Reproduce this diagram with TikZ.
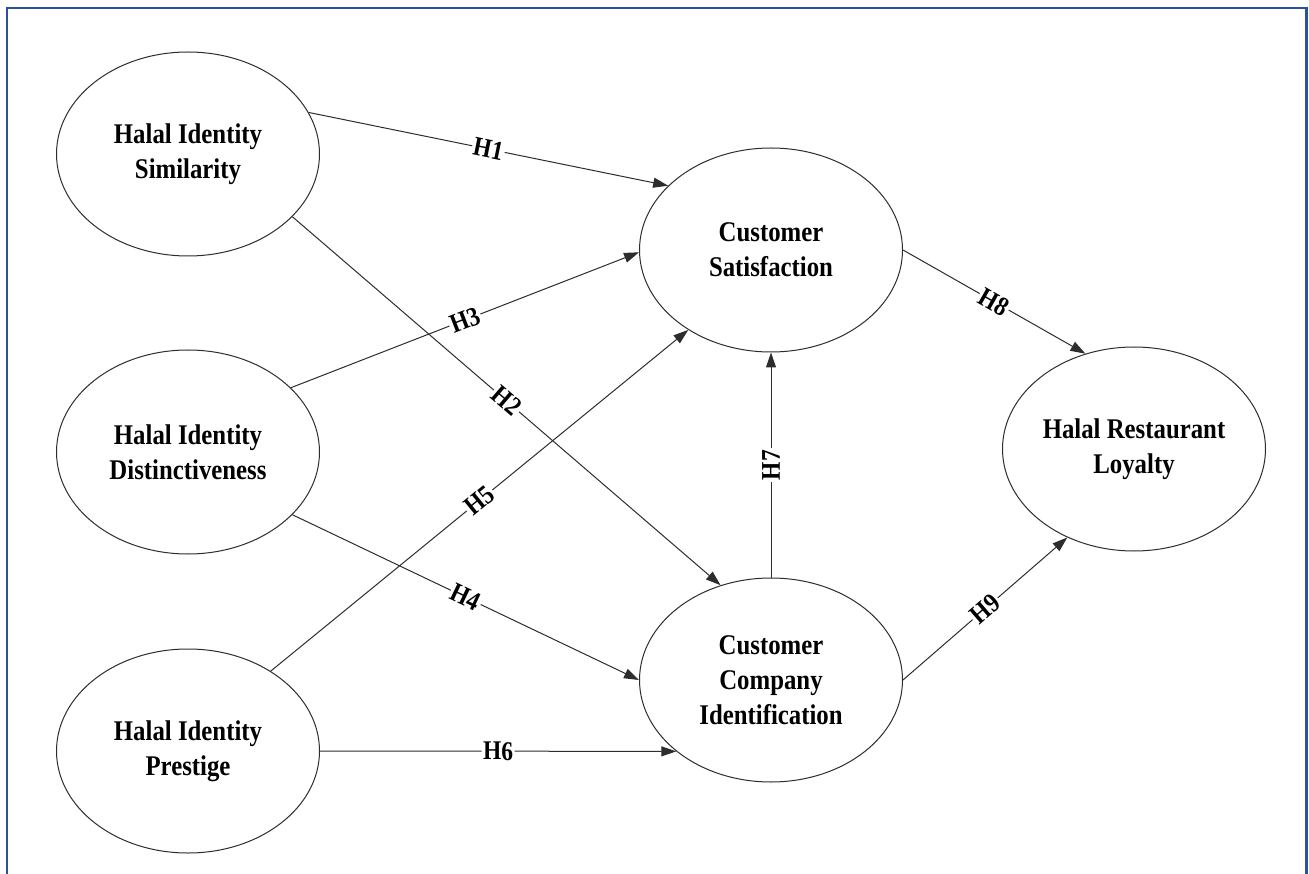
\documentclass[tikz,border=0pt]{standalone}
\usepackage{fontspec}
\setmainfont{Liberation Serif}[FakeStretch=0.87]
\usetikzlibrary{arrows.meta,shapes.geometric}
\definecolor{frameblue}{RGB}{46,78,158}
\definecolor{linegray}{RGB}{45,45,45}
\tikzset{
  construct/.style={ellipse, draw=linegray, line width=1pt, fill=white,
    minimum width=263pt, minimum height=204pt, inner sep=0pt, align=center,
    font=\fontsize{28.5}{35}\selectfont\bfseries},
  path/.style={draw=linegray, line width=1pt, -{Triangle[length=15pt,width=10pt]}},
  hyp/.style={midway, sloped, fill=white, inner sep=1.5pt,
    font=\fontsize{27}{27}\selectfont\bfseries}
}
\begin{document}
\begin{tikzpicture}[x=1pt,y=-1pt]
\useasboundingbox (0,0) rectangle (1309,874);
\fill[white] (0,0) rectangle (1309,874);
\draw[frameblue, line width=2.2pt] (7,874) -- (7,8) -- (1306.5,8) -- (1306.5,874);

\node[construct] (his) at (188,154) {Halal Identity\\Similarity};
\node[construct] (hid) at (188,452) {Halal Identity\\Distinctiveness};
\node[construct] (hip) at (188,751) {Halal Identity\\Prestige};
\node[construct] (cs)  at (771,250) {Customer\\Satisfaction};
\node[construct] (cci) at (771,680) {Customer\\Company\\Identification};
\node[construct] (hrl) at (1134,449) {Halal Restaurant\\Loyalty};

\draw[path] (his.19)  -- node[hyp] {H1} (cs.148);
\draw[path] (his.-31) -- node[hyp] {H2} (cci.118);
\draw[path] (hid.32)  -- node[hyp] {H3} (cs.181);
\draw[path] (hid.-31) -- node[hyp] {H4} (cci.180);
\draw[path] (hip.44)  -- node[hyp] {H5} (cs.224);
\draw[path] (hip.0)   -- node[hyp] {H6} (cci.217);
\draw[path] (cci.90)  -- node[hyp] {H7} (cs.270);
\draw[path] (cs.0)    -- node[hyp] {H8} (hrl.117);
\draw[path] (cci.0)   -- node[hyp] {H9} (hrl.233);
\end{tikzpicture}
\end{document}
